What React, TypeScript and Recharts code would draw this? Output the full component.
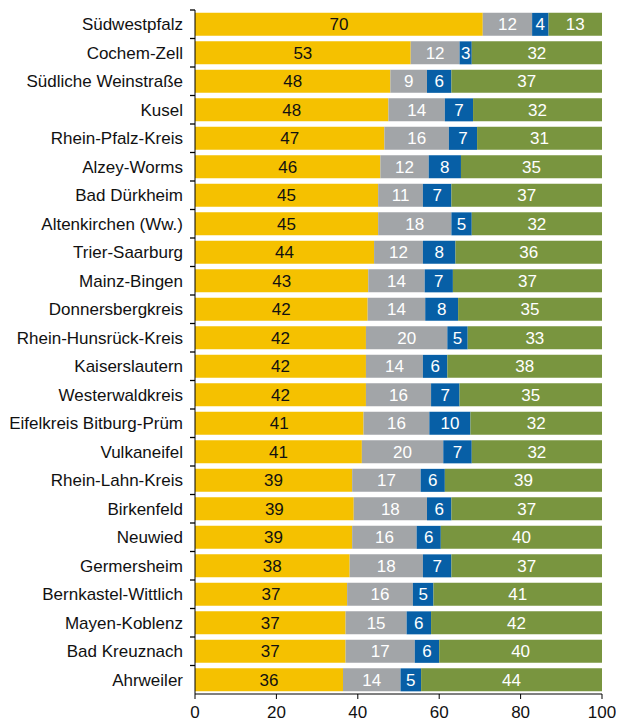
import { BarChart, Bar, XAxis, YAxis, LabelList } from 'recharts';

const regions = [
  'Südwestpfalz', 'Cochem-Zell', 'Südliche Weinstraße', 'Kusel', 'Rhein-Pfalz-Kreis',
  'Alzey-Worms', 'Bad Dürkheim', 'Altenkirchen (Ww.)', 'Trier-Saarburg', 'Mainz-Bingen',
  'Donnersbergkreis', 'Rhein-Hunsrück-Kreis', 'Kaiserslautern', 'Westerwaldkreis',
  'Eifelkreis Bitburg-Prüm', 'Vulkaneifel', 'Rhein-Lahn-Kreis', 'Birkenfeld', 'Neuwied',
  'Germersheim', 'Bernkastel-Wittlich', 'Mayen-Koblenz', 'Bad Kreuznach', 'Ahrweiler',
];
const partA = [70, 53, 48, 48, 47, 46, 45, 45, 44, 43, 42, 42, 42, 42, 41, 41, 39, 39, 39, 38, 37, 37, 37, 36];
const partB = [12, 12, 9, 14, 16, 12, 11, 18, 12, 14, 14, 20, 14, 16, 16, 20, 17, 18, 16, 18, 16, 15, 17, 14];
const partC = [4, 3, 6, 7, 7, 8, 7, 5, 8, 7, 8, 5, 6, 7, 10, 7, 6, 6, 6, 7, 5, 6, 6, 5];
const partD = [13, 32, 37, 32, 31, 35, 37, 32, 36, 37, 35, 33, 38, 35, 32, 32, 39, 37, 40, 37, 41, 42, 40, 44];
const xTicks = [0, 20, 40, 60, 80, 100];

const COLORS = ['#f5c100', '#a2a5a8', '#075fa6', '#79953f'];
const FONT = '"Liberation Sans", Arial, sans-serif';

const W = 616;
const H = 714;
const Y_AXIS_W = 187;
const TOP = 2;
const X_AXIS_H = 28;
const BAND = (H - TOP - X_AXIS_H) / regions.length;

// rounded labels don't always add up to 100, bars are drawn as shares of the row
const data = regions.map((name, i) => {
  const sum = partA[i] + partB[i] + partC[i] + partD[i];
  return {
    name,
    a: partA[i], b: partB[i], c: partC[i], d: partD[i],
    aS: (partA[i] / sum) * 100,
    bS: (partB[i] / sum) * 100,
    cS: (partC[i] / sum) * 100,
    dS: (partD[i] / sum) * 100,
  };
});

function RegionTick(props: any) {
  const { x, y, payload } = props;
  const top = y - BAND / 2;
  return (
    <g>
      <line x1={Y_AXIS_W - 5} x2={Y_AXIS_W} y1={top} y2={top} stroke="#000" strokeWidth={1.3} />
      <text x={x} y={y} dy="0.355em" textAnchor="end" fill="#111" fontSize={17} fontFamily={FONT}>
        {payload.value}
      </text>
    </g>
  );
}

export default function App() {
  const series = [
    { key: 'aS', label: 'a', text: '#111' },
    { key: 'bS', label: 'b', text: '#fff' },
    { key: 'cS', label: 'c', text: '#fff' },
    { key: 'dS', label: 'd', text: '#fff' },
  ];
  return (
    <BarChart
      width={W}
      height={H}
      data={data}
      layout="vertical"
      margin={{ top: TOP, right: 22, bottom: 0, left: 0 }}
      barCategoryGap="10%"
    >
      <XAxis
        type="number"
        domain={[0, 100]}
        ticks={xTicks}
        height={X_AXIS_H}
        stroke="#000"
        tickSize={5}
        tickMargin={7}
        tick={{ fill: '#111', fontSize: 17, fontFamily: FONT }}
      />
      <YAxis
        type="category"
        dataKey="name"
        width={Y_AXIS_W}
        stroke="#000"
        tickLine={false}
        tickSize={6}
        tickMargin={6}
        interval={0}
        tick={<RegionTick />}
      />
      {series.map((s, i) => (
        <Bar key={s.key} dataKey={s.key} stackId="x" fill={COLORS[i]} isAnimationActive={false}>
          <LabelList
            dataKey={s.label}
            position="center"
            fill={s.text}
            fontSize={17}
            fontFamily={FONT}
          />
        </Bar>
      ))}
    </BarChart>
  );
}
